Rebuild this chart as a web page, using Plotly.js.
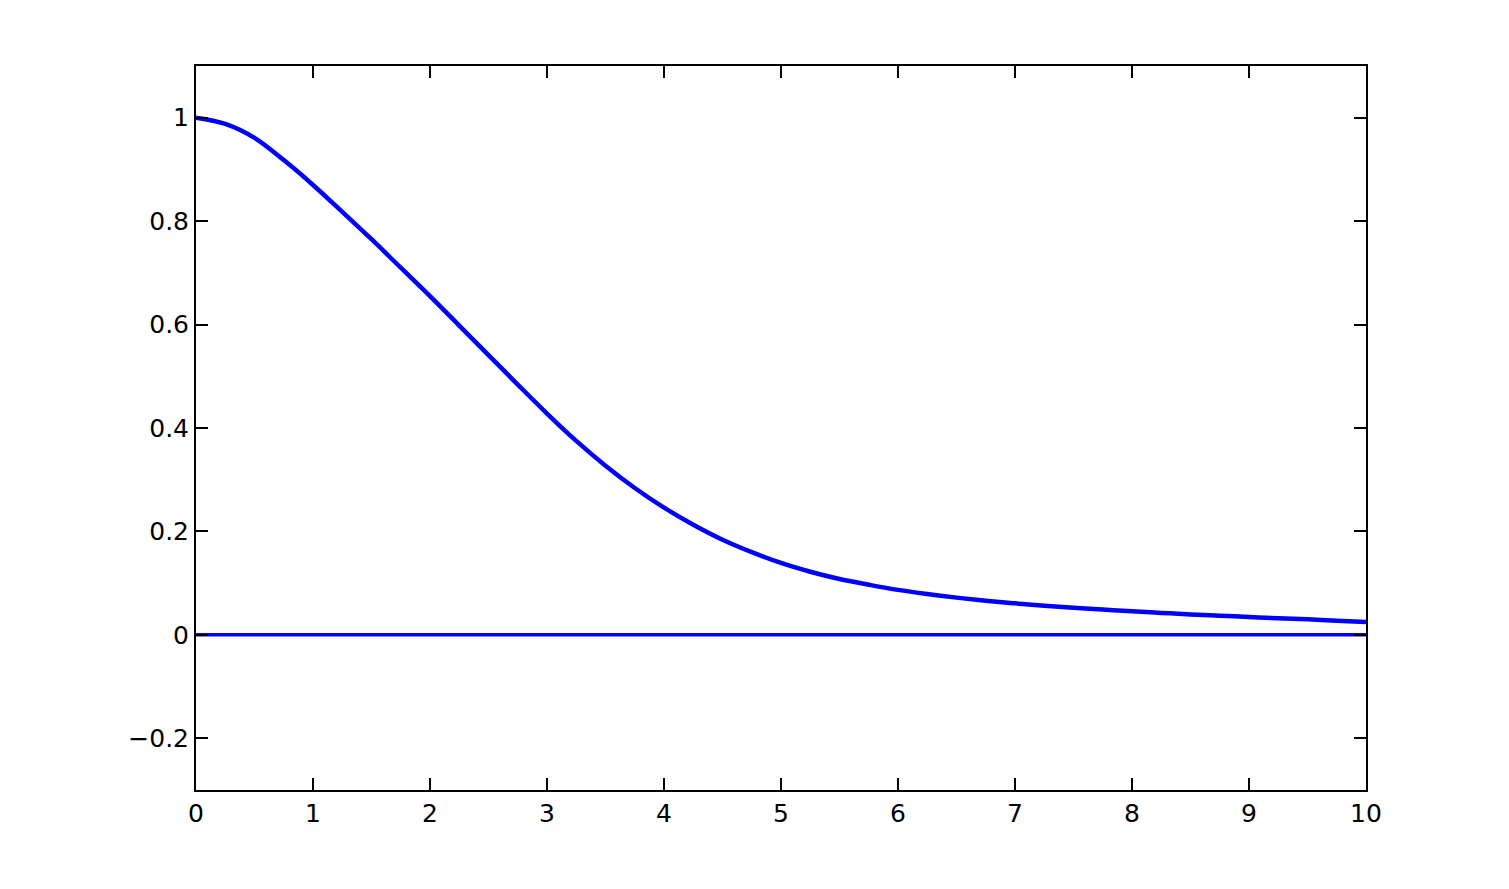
<!DOCTYPE html>
<html>
<head>
<meta charset="utf-8">
<script src="https://cdn.plot.ly/plotly-3.0.1.min.js"></script>
<style>html,body{margin:0;padding:0;background:#fff;}#chart{width:1509px;height:889px;}</style>
</head>
<body>
<div id="chart"></div>
<script>
const xValues = [0, 0.25, 0.5, 0.75, 1, 1.25, 1.5, 1.75, 2, 2.25, 2.5, 2.75, 3, 3.25, 3.5, 3.75, 4, 4.25, 4.5, 4.75, 5,
                 5.25, 5.5, 5.75, 6, 6.25, 6.5, 6.75, 7, 7.25, 7.5, 7.75, 8, 8.25, 8.5, 8.75, 9, 9.25, 9.5, 9.75, 10];
const curveValues = [1.000, 0.988, 0.961, 0.918, 0.870, 0.818, 0.765, 0.710, 0.655, 0.598, 0.541, 0.484, 0.428, 0.375, 0.327, 0.284, 0.246, 0.213, 0.184, 0.160, 0.139,
                     0.122, 0.108, 0.097, 0.087, 0.079, 0.072, 0.066, 0.061, 0.0565, 0.0525, 0.049, 0.0455, 0.0425, 0.0395, 0.037, 0.0345, 0.032, 0.030, 0.0275, 0.025];
const zeroX = [0, 10];
const zeroValues = [0, 0];
const xTickVals = [0,1,2,3,4,5,6,7,8,9,10];
const xTickText = ["0","1","2","3","4","5","6","7","8","9","10"];
const yTickVals = [-0.2, 0, 0.2, 0.4, 0.6, 0.8, 1];
const yTickText = ["\u22120.2","0","0.2","0.4","0.6","0.8","1"];

const traces = [
  {x: xValues, y: curveValues, type: 'scatter', mode: 'lines', line: {color: '#0000ff', width: 4.5, shape: 'spline', smoothing: 1}, hoverinfo: 'skip'},
  {x: zeroX, y: zeroValues, type: 'scatter', mode: 'lines', line: {color: '#0000ff', width: 3.5}, hoverinfo: 'skip'}
];

const axisCommon = {
  showline: true, linecolor: '#000', linewidth: 2, mirror: 'ticks',
  ticks: 'inside', ticklen: 12, tickwidth: 2, tickcolor: '#000',
  showgrid: false, zeroline: false,
  tickfont: {family: 'DejaVu Sans, sans-serif', size: 25, color: '#000'}
};

const layout = {
  width: 1509, height: 889,
  margin: {l: 196, r: 143, t: 66, b: 99},
  paper_bgcolor: '#fff', plot_bgcolor: '#fff',
  showlegend: false,
  xaxis: Object.assign({}, axisCommon, {range: [0, 10], tickvals: xTickVals, ticktext: xTickText}),
  yaxis: Object.assign({}, axisCommon, {range: [-0.3, 1.1], tickvals: yTickVals, ticktext: yTickText})
};

Plotly.newPlot('chart', traces, layout, {displayModeBar: false, staticPlot: true});
</script>
</body>
</html>
